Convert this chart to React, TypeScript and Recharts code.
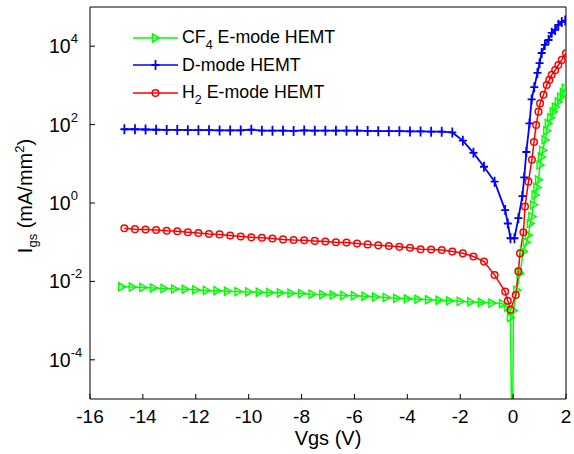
import React from "react";
import { LineChart, Line, XAxis, YAxis, Legend, ReferenceLine } from "recharts";

// Gate current vs gate voltage (mA/mm^2)
const cf4V = [
  -14.8, -14.4, -14.0, -13.6, -13.2, -12.8, -12.4, -12.0, -11.6, -11.2, -10.8, -10.4, -10.0, -9.6, -9.2, -8.8,
  -8.4, -8.0, -7.6, -7.2, -6.8, -6.4, -6.0, -5.6, -5.2, -4.8, -4.4, -4.0, -3.6, -3.2, -2.8, -2.4,
  -2.0, -1.6, -1.2, -0.8, -0.4, -0.2, -0.1, -0.03, 0.01, 0.14, 0.26, 0.39, 0.5, 0.58, 0.65, 0.71,
  0.77, 0.83, 0.9, 0.96, 1.02, 1.07, 1.12, 1.21, 1.27, 1.33, 1.42, 1.52, 1.6, 1.71, 1.8, 1.9, 1.97,
];
const cf4I = [
  0.0073, 0.0072, 0.007, 0.0068, 0.0066, 0.0064, 0.0063, 0.0061, 0.0059, 0.0058, 0.0056, 0.0055, 0.0054, 0.0053, 0.0052, 0.0051,
  0.005, 0.0049, 0.0047, 0.0046, 0.0045, 0.0044, 0.0043, 0.0042, 0.004, 0.0039, 0.0037, 0.0036, 0.0035, 0.0034, 0.0033, 0.0032,
  0.0031, 0.003, 0.0029, 0.0028, 0.0027, 0.0022, 0.0012, 1e-7, 0.0018, 0.006, 0.016, 0.058, 0.1, 0.15, 0.3, 0.45,
  0.9, 1.6, 2.5, 3.9, 9.3, 15, 22, 41, 70, 107, 150, 214, 280, 380, 500, 650, 850,
];

const dModeV = [
  -14.7, -14.3, -13.9, -13.5, -13.1, -12.7, -12.3, -11.9, -11.5, -11.1, -10.7, -10.3, -9.9, -9.5, -9.1, -8.7,
  -8.3, -7.9, -7.5, -7.1, -6.7, -6.3, -5.9, -5.5, -5.1, -4.7, -4.3, -3.9, -3.5, -3.1, -2.7, -2.3,
  -1.9, -1.5, -1.1, -0.7, -0.3, -0.2, -0.1, 0.05, 0.2, 0.35, 0.42, 0.5, 0.62, 0.7, 0.8, 0.92,
  1.0, 1.08, 1.2, 1.34, 1.46, 1.59, 1.71, 1.84, 1.97,
];
const dModeI = [
  76, 76, 75, 74, 73, 73, 72, 72, 72, 71, 71, 71, 74, 70, 70, 70,
  69, 71, 70, 70, 70, 70, 70, 69, 68, 68, 68, 67, 67, 66, 66, 63,
  39, 19, 8.4, 3.5, 0.66, 0.3, 0.126, 0.126, 0.41, 1.5, 4.5, 20, 108, 440, 900, 2080,
  3700, 6700, 10800, 14400, 22000, 26000, 35000, 41500, 45000,
];

const h2V = [
  -14.7, -14.3, -13.9, -13.5, -13.1, -12.7, -12.3, -11.9, -11.5, -11.1, -10.7, -10.3, -9.9, -9.5, -9.1, -8.7,
  -8.3, -7.9, -7.5, -7.1, -6.7, -6.3, -5.9, -5.5, -5.1, -4.7, -4.3, -3.9, -3.5, -3.1, -2.7, -2.3,
  -1.9, -1.5, -1.1, -0.7, -0.3, -0.2, -0.1, 0.1, 0.2, 0.26, 0.39, 0.45, 0.58, 0.71, 0.79, 0.87,
  0.96, 1.02, 1.15, 1.27, 1.37, 1.46, 1.59, 1.71, 1.84, 2.0,
];
const h2I = [
  0.226, 0.215, 0.21, 0.205, 0.196, 0.19, 0.18, 0.172, 0.162, 0.158, 0.148, 0.14, 0.133, 0.13, 0.124, 0.118,
  0.114, 0.112, 0.108, 0.104, 0.1, 0.098, 0.092, 0.088, 0.083, 0.08, 0.076, 0.072, 0.066, 0.065, 0.063, 0.058,
  0.052, 0.043, 0.032, 0.0145, 0.0055, 0.0032, 0.0019, 0.0045, 0.018, 0.052, 0.18, 0.81, 3.5, 12.6, 36, 98,
  214, 347, 575, 1020, 1380, 1860, 2450, 3310, 4470, 6600,
];

const xTicks = [-16, -14, -12, -10, -8, -6, -4, -2, 0, 2];
const yTicks = [1e-4, 1e-2, 1, 1e2, 1e4];
const yTickExps = ["-4", "-2", "0", "2", "4"];

const GREEN = "#00ff00";
const BLUE = "#0000ff";
const RED = "#ff0000";
const FONT = "Arial, 'Liberation Sans', sans-serif";

const toRows = (xs: number[], ys: number[]) => xs.map((x, i) => ({ x, y: ys[i] }));
const cf4Data = toRows(cf4V, cf4I);
const dModeData = toRows(dModeV, dModeI);
const h2Data = toRows(h2V, h2I);

function triPath(cx: number, cy: number) {
  return `M${cx - 3},${cy - 4} L${cx + 4},${cy} L${cx - 3},${cy + 4} Z`;
}

const TriDot = (p: any) => {
  if (p.cx == null || p.cy == null) return <g key={p.key} />;
  return <path key={p.key} d={triPath(p.cx, p.cy)} fill="none" stroke={GREEN} strokeWidth={1.5} />;
};
const CrossDot = (p: any) => {
  if (p.cx == null || p.cy == null) return <g key={p.key} />;
  return (
    <path key={p.key} d={`M${p.cx - 4},${p.cy} H${p.cx + 4} M${p.cx},${p.cy - 5} V${p.cy + 5}`}
      stroke={BLUE} strokeWidth={1.8} fill="none" />
  );
};
const CircleDot = (p: any) => {
  if (p.cx == null || p.cy == null) return <g key={p.key} />;
  return <circle key={p.key} cx={p.cx} cy={p.cy} r={3.3} fill="none" stroke={RED} strokeWidth={1.5} />;
};

const XTick = ({ x, y, payload }: any) => (
  <g>
    <line x1={x} y1={y} x2={x} y2={y - 5} stroke="#000" />
    <text x={x} y={y + 24} textAnchor="middle" fontSize={19} fontFamily={FONT} fill="#000">
      {payload.value}
    </text>
  </g>
);

const YTick = ({ x, y, payload, index }: any) => (
  <g>
    <line x1={x} y1={y} x2={x + 5} y2={y} stroke="#000" />
    <text x={x - 41} y={y + 7} textAnchor="start" fontSize={19.5} fontFamily={FONT} fill="#000">
      <tspan>10</tspan>
      <tspan fontSize={13} dy={-10}>{yTickExps[index] ?? String(Math.round(Math.log10(payload.value)))}</tspan>
    </text>
  </g>
);

const YLabel = ({ viewBox }: any) => {
  const cx = 32;
  const cy = (viewBox?.y ?? 7) + (viewBox?.height ?? 392) / 2 - 7;
  return (
    <text x={cx} y={cy} transform={`rotate(-90, ${cx}, ${cy})`} textAnchor="middle" fontSize={20} fontFamily={FONT} fill="#000">
      <tspan>I</tspan>
      <tspan fontSize={13} dy={5}>gs</tspan>
      <tspan dy={-5}> (mA/mm</tspan>
      <tspan fontSize={13} dy={-8}>2</tspan>
      <tspan dy={8}>)</tspan>
    </text>
  );
};

const legendRows = [
  { key: "cf4", color: GREEN, dot: "tri", main: "CF", sub: "4", rest: " E-mode HEMT" },
  { key: "d", color: BLUE, dot: "cross", main: "D-mode HEMT", sub: "", rest: "" },
  { key: "h2", color: RED, dot: "circle", main: "H", sub: "2", rest: " E-mode HEMT" },
];

const LegendBox = () => (
  <div style={{ fontFamily: FONT, fontSize: 17.8, color: "#000" }}>
    {legendRows.map(r => (
      <div key={r.key} style={{ display: "flex", alignItems: "center", height: 27.5 }}>
        <svg width={46} height={14} style={{ display: "block" }}>
          <line x1={0} y1={7} x2={45} y2={7} stroke={r.color} strokeWidth={1.5} />
          {r.dot === "tri" && <path d={triPath(22.5, 7)} fill="none" stroke={r.color} strokeWidth={1.5} />}
          {r.dot === "cross" && <path d="M18.5,7 H26.5 M22.5,2 V12" stroke={r.color} strokeWidth={1.8} />}
          {r.dot === "circle" && <circle cx={22.5} cy={7} r={3.3} fill="none" stroke={r.color} strokeWidth={1.5} />}
        </svg>
        <span style={{ marginLeft: 3, whiteSpace: "nowrap", lineHeight: "20px" }}>
          {r.main}
          {r.sub && <span style={{ fontSize: 12.5, position: "relative", top: 6 }}>{r.sub}</span>}
          {r.rest}
        </span>
      </div>
    ))}
  </div>
);

export default function App() {
  return (
    <div style={{ position: "absolute", left: 0, top: 0, width: 574, height: 454, background: "#fff" }}>
      <LineChart width={574} height={454} margin={{ top: 7, right: 8, bottom: 0, left: 0 }}>
        <XAxis
          type="number"
          dataKey="x"
          domain={[-16, 2]}
          ticks={xTicks}
          interval={0}
          allowDataOverflow
          height={55}
          tickSize={0}
          tickMargin={0}
          tickLine={false}
          axisLine={{ stroke: "#000" }}
          tick={<XTick />}
          label={{ value: "Vgs (V)", position: "insideBottom", offset: 9, fontSize: 20, fill: "#000", fontFamily: FONT }}
        />
        <YAxis
          type="number"
          scale="log"
          domain={[1e-5, 1e5]}
          ticks={yTicks}
          interval={0}
          allowDataOverflow
          width={90}
          tickSize={0}
          tickMargin={0}
          tickLine={false}
          axisLine={{ stroke: "#000" }}
          tick={<YTick />}
          label={<YLabel />}
        />
        <ReferenceLine y={1e5} stroke="#000" />
        <ReferenceLine x={2} stroke="#000" />
        <Legend
          layout="vertical"
          align="center"
          verticalAlign="middle"
          wrapperStyle={{ left: 133, top: 24, width: 240 }}
          content={() => <LegendBox />}
        />
        <Line data={cf4Data} dataKey="y" name="CF4 E-mode HEMT" type="linear" stroke={GREEN} strokeWidth={1.5}
          dot={TriDot} activeDot={false} isAnimationActive={false} />
        <Line data={dModeData} dataKey="y" name="D-mode HEMT" type="linear" stroke={BLUE} strokeWidth={1.8}
          dot={CrossDot} activeDot={false} isAnimationActive={false} />
        <Line data={h2Data} dataKey="y" name="H2 E-mode HEMT" type="linear" stroke={RED} strokeWidth={1.5}
          dot={CircleDot} activeDot={false} isAnimationActive={false} />
      </LineChart>
    </div>
  );
}
